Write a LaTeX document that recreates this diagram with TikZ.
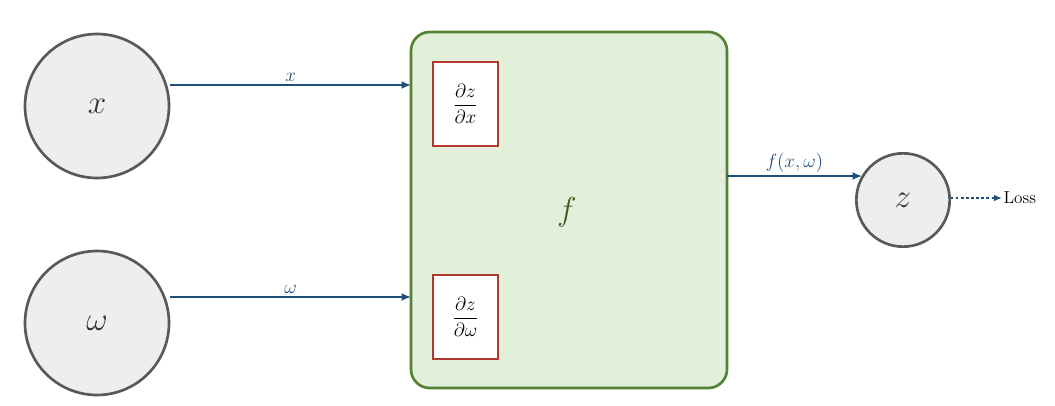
\documentclass[tikz,border=0pt]{standalone}
\usepackage{amsmath}
\usetikzlibrary{arrows.meta}
\definecolor{cblue}{HTML}{1F4E79}
\definecolor{cgreen}{HTML}{548235}
\definecolor{cfill}{HTML}{E2EFDA}
\definecolor{cred}{HTML}{B03A2E}
\definecolor{cgray}{HTML}{595959}
\definecolor{cgfill}{HTML}{EEEEEE}
\begin{document}
\begin{tikzpicture}[x=0.75pt,y=-0.75pt,
  circ/.style={circle,draw=cgray,line width=2pt,fill=cgfill,inner sep=0pt,text=black!80},
  der/.style={draw=cred,line width=1.5pt,fill=white,minimum width=48.75pt,minimum height=63pt,inner sep=0pt,font=\fontsize{15}{18}\selectfont},
  con/.style={draw=cblue,line width=1.8pt,-{Latex[length=7pt,width=6pt]}},
  lab/.style={text=cblue,font=\fontsize{15}{18}\selectfont,inner sep=2pt}]
\useasboundingbox (0,0) rectangle (1055,406);
\node[circ,minimum size=108pt,font=\fontsize{28}{32}\selectfont] (x) at (97,106) {$x$};
\node[circ,minimum size=108pt,font=\fontsize{28}{32}\selectfont] (w) at (97,323) {$\omega$};
\node[draw=cgreen,fill=cfill,line width=2pt,rounded corners=14pt,minimum width=237pt,minimum height=267pt] (f) at (569,210) {};
\node[text=cgreen!70!black,font=\fontsize{30}{34}\selectfont] (fl) at (567,212) {$f$};
\node[der] (dx) at (465.5,104) {$\dfrac{\partial z}{\partial x}$};
\node[der] (dw) at (465.5,317) {$\dfrac{\partial z}{\partial \omega}$};
\node[circ,minimum size=70pt,font=\fontsize{26}{30}\selectfont] (z) at (903,200) {$z$};
\coordinate (fi1) at (411,85);
\coordinate (fi2) at (411,297);
\coordinate (fo) at (727,176);
\coordinate (zi) at (862,176);
\coordinate (zo) at (951,198);
\draw[con] (x.east |- fi1) -- node[lab,above] {$x$} (fi1);
\draw[con] (w.east |- fi2) -- node[lab,above] {$\omega$} (fi2);
\draw[con] (fo) -- node[lab,above] {$f(x,\omega)$} (zi);
\node[font=\fontsize{13}{15}\selectfont,anchor=west,inner sep=1pt] (loss) at (1002,198) {Loss};
\draw[draw=cblue,line width=1.8pt,dotted,-{Latex[length=6pt,width=5pt]}] (zo) -- (loss.west);
\end{tikzpicture}
\end{document}
